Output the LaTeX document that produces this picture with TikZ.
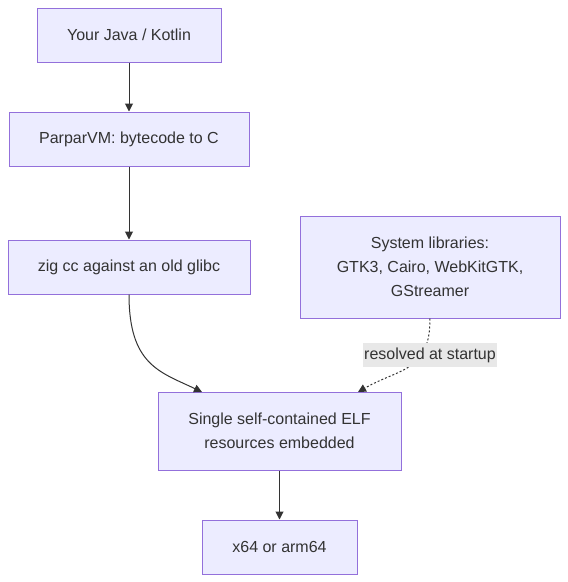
\documentclass[tikz,border=0pt]{standalone}
\usepackage{fontspec}
\setmainfont{Liberation Sans}
\usetikzlibrary{arrows.meta}
\definecolor{boxfill}{HTML}{ECECFF}
\definecolor{boxline}{HTML}{9370DB}
\definecolor{txt}{HTML}{333333}
\definecolor{lblbg}{HTML}{E8E8E8}
\tikzset{
  box/.style={draw=boxline, fill=boxfill, line width=1pt, text=txt, font=\fontsize{16}{24}\selectfont, align=center, inner sep=0pt},
  conn/.style={draw=txt, line width=1pt, -{Triangle[length=8pt,width=8pt]}},
  lbl/.style={fill=lblbg, text=txt, font=\fontsize{16}{20}\selectfont, inner xsep=1pt, inner ysep=0pt, minimum height=24pt}
}
\begin{document}
\begin{tikzpicture}[x=1pt,y=-1pt]
\useasboundingbox (0,0) rectangle (568,582);
\node[box, minimum width=184pt, minimum height=54pt] (a) at (129,35) {Your Java / Kotlin};
\node[box, minimum width=240pt, minimum height=54pt] (b) at (129,139) {ParparVM: bytecode to C};
\node[box, minimum width=242pt, minimum height=54pt] (c) at (129,267) {zig cc against an old glibc};
\node[box, minimum width=260pt, minimum height=102pt] (d) at (430,267) {System libraries:\\GTK3, Cairo, WebKitGTK,\\GStreamer};
\node[box, minimum width=243pt, minimum height=78pt] (e) at (279.5,431) {Single self-contained ELF\\resources embedded};
\node[box, minimum width=155pt, minimum height=54pt] (f) at (279.5,547) {x64 or arm64};
\coordinate (eL) at (202,392);
\coordinate (eR) at (358,392);
\draw[conn] (a.south) -- (b.north);
\draw[conn] (b.south) -- (c.north);
\draw[conn] (c.south) .. controls (129,365) and (160,372) .. (eL);
\draw[conn, dash pattern=on 2pt off 2pt] (d.south) .. controls (430,372) and (400,368) .. (eR);
\node[lbl] (l) at (430,355) {resolved at startup};
\draw[conn] (e.south) -- (f.north);
\end{tikzpicture}
\end{document}
